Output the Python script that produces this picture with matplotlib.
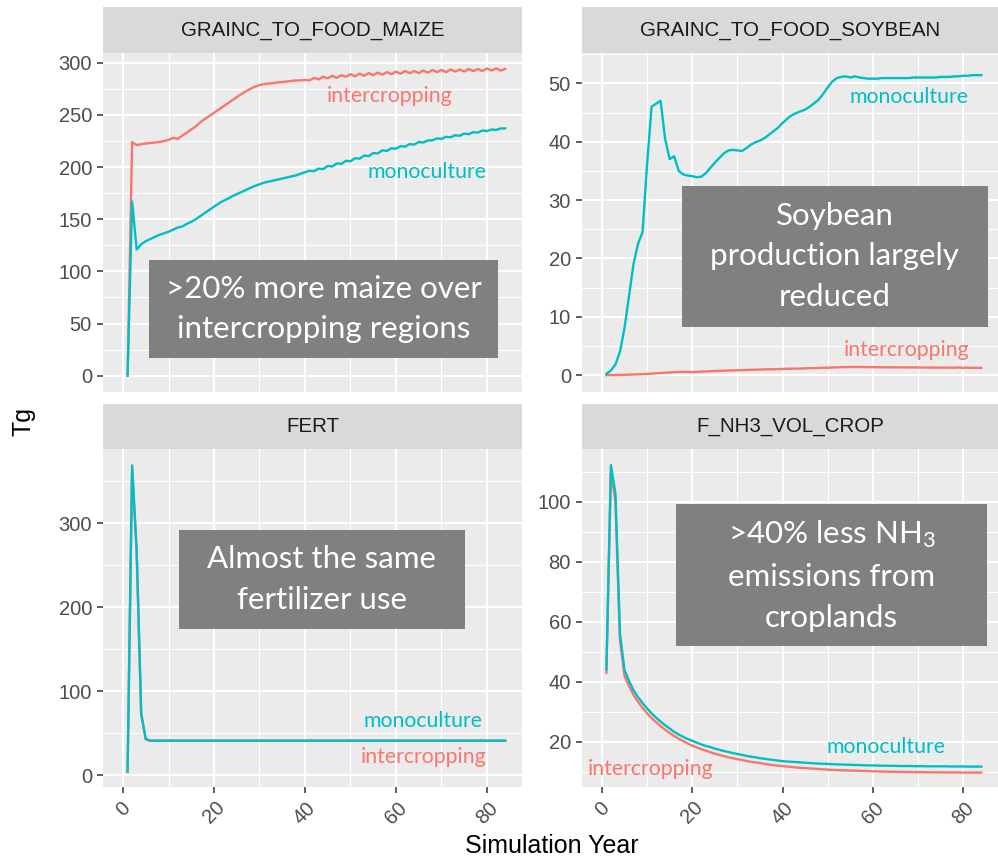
import matplotlib
matplotlib.use('Agg')
import matplotlib.pyplot as plt
from matplotlib.patches import Rectangle

plt.rcParams['font.family'] = ['Liberation Sans', 'DejaVu Sans']

years = list(range(1, 85))

maize_inter = [0, 224, 221, 222, 222.5, 223, 223.5, 224, 225, 226,
               228, 227, 230, 233, 236, 239, 243, 246, 249, 252,
               255, 258, 261, 264, 267, 270, 272.5, 275, 277, 278.5,
               279.5, 280, 280.5, 281, 281.5, 282, 282.5, 283, 283, 283.5,
               283, 285.5, 284, 286.5, 285, 287.5, 285.5, 288, 286.5, 289,
               287, 289.5, 287.5, 290, 288, 290.5, 288.5, 291, 289, 291.5,
               289.5, 292, 290, 292, 290, 292.5, 290.5, 293, 291, 293,
               291, 293.5, 291.5, 293.5, 291.5, 294, 292, 294, 292, 294.5,
               292.5, 294.5, 292.5, 294]
maize_mono = [0, 167, 121, 126, 129, 131, 133, 135, 136.5, 138,
              140, 142, 143, 145.5, 147.5, 150, 153, 156, 159, 162,
              165, 167.5, 169.5, 172, 174, 176, 178, 180, 182, 183.5,
              185, 186, 187, 188, 189, 190, 191, 192, 193.5, 195,
              196.5, 196, 198.5, 198, 201, 200.5, 203.5, 203, 206, 205.5,
              208.5, 208, 211, 210.5, 213.5, 213, 216, 215.5, 218, 217.5,
              220, 219.5, 222, 221.5, 224, 223.5, 225.5, 225.5, 227.5, 227,
              229, 228.5, 230.5, 230, 232, 231.5, 233.5, 233, 235, 234.5,
              236, 235.5, 237, 237]

soy_mono = [0.2, 0.8, 1.8, 4.0, 8.0, 13.5, 19.0, 22.5, 24.5, 36,
            46, 46.5, 47, 40.5, 37, 37.5, 35, 34.4, 34.2, 34.1,
            33.9, 34, 34.6, 35.5, 36.4, 37.2, 38.0, 38.5, 38.6, 38.5,
            38.4, 38.9, 39.5, 39.9, 40.2, 40.6, 41.2, 41.8, 42.4, 43.2,
            43.9, 44.5, 44.9, 45.2, 45.5, 46.0, 46.6, 47.2, 48.2, 49.3,
            50.3, 50.9, 51.1, 51.2, 51.0, 51.2, 51.0, 50.9, 50.8, 50.8,
            50.8, 50.9, 50.9, 50.9, 50.9, 50.9, 50.9, 50.9, 51.0, 51.0,
            51.0, 51.0, 51.0, 51.0, 51.1, 51.1, 51.1, 51.2, 51.2, 51.3,
            51.3, 51.4, 51.4, 51.4]
soy_inter = [0, 0, 0.02, 0.03, 0.05, 0.07, 0.1, 0.12, 0.15, 0.2,
             0.25, 0.3, 0.35, 0.4, 0.45, 0.5, 0.55, 0.55, 0.55, 0.5,
             0.55, 0.6, 0.62, 0.65, 0.7, 0.72, 0.75, 0.78, 0.8, 0.82,
             0.84, 0.86, 0.9, 0.92, 0.95, 0.98, 1.0, 1.0, 1.02, 1.05,
             1.08, 1.1, 1.1, 1.12, 1.15, 1.18, 1.2, 1.22, 1.25, 1.27,
             1.3, 1.32, 1.35, 1.36, 1.38, 1.38, 1.38, 1.37, 1.36, 1.35,
             1.35, 1.34, 1.34, 1.33, 1.33, 1.32, 1.32, 1.31, 1.31, 1.3,
             1.3, 1.29, 1.29, 1.28, 1.28, 1.27, 1.27, 1.26, 1.3, 1.24,
             1.28, 1.23, 1.26, 1.22]

fert_mono = [4, 369, 268, 73, 43, 41] + [41] * 78
fert_inter = [4, 366, 265, 72, 42.5, 40.8] + [40.8] * 78

nh3_mono = [44.1, 112.2, 102.8, 56.1, 43.9, 40.3, 37.2, 34.9, 32.9, 31.1,
            29.5, 28.0, 26.7, 25.5, 24.4, 23.3, 22.4, 21.6, 20.9, 20.3,
            19.7, 19.1, 18.6, 18.2, 17.7, 17.3, 16.9, 16.6, 16.2, 15.9,
            15.6, 15.3, 15.0, 14.8, 14.5, 14.3, 14.1, 13.9, 13.7, 13.5,
            13.4, 13.3, 13.2, 13.1, 13.0, 12.9, 12.8, 12.7, 12.65, 12.6,
            12.5, 12.45, 12.4, 12.35, 12.3, 12.25, 12.2, 12.15, 12.1, 12.1,
            12.05, 12.0, 12.0, 11.95, 11.95, 11.9, 11.9, 11.9, 11.85, 11.85,
            11.85, 11.8, 11.8, 11.8, 11.8, 11.8, 11.75, 11.75, 11.75, 11.75,
            11.7, 11.7, 11.7, 11.7]
nh3_inter = [43.0, 110, 100, 54, 42.0, 38.6, 35.6, 33.3, 31.3, 29.5,
             27.9, 26.5, 25.2, 24.0, 22.9, 21.9, 21.0, 20.2, 19.4, 18.7,
             18.1, 17.5, 17.0, 16.5, 16.0, 15.6, 15.2, 14.8, 14.5, 14.2,
             13.9, 13.6, 13.3, 13.1, 12.9, 12.6, 12.4, 12.2, 12.0, 11.9,
             11.7, 11.6, 11.4, 11.3, 11.2, 11.1, 11.0, 10.9, 10.8, 10.7,
             10.6, 10.55, 10.5, 10.45, 10.4, 10.35, 10.3, 10.25, 10.2, 10.15,
             10.1, 10.05, 10.0, 10.0, 9.95, 9.95, 9.9, 9.9, 9.85, 9.85,
             9.85, 9.8, 9.8, 9.8, 9.8, 9.75, 9.75, 9.75, 9.75, 9.7,
             9.7, 9.7, 9.7, 9.7]

panel_titles = ['GRAINC_TO_FOOD_MAIZE', 'GRAINC_TO_FOOD_SOYBEAN', 'FERT', 'F_NH3_VOL_CROP']
notes = ['>20% more maize over\nintercropping regions',
         'Soybean\nproduction largely\nreduced',
         'Almost the same\nfertilizer use',
         '>40% less NH$\\mathregular{_3}$\nemissions from\ncroplands']
x_ticks = [0, 20, 40, 60, 80]

RED = '#F8766D'
CYAN = '#00BFC4'
W, H = 998, 861


def rect(l, t, r, b):
    return [l / W, 1 - b / H, (r - l) / W, (b - t) / H]


# panel boxes in pixels: (plot area, strip area)
panels = [
    ((103, 53, 522, 392), (103, 7, 522, 53)),
    ((582, 53, 998, 392), (582, 7, 998, 53)),
    ((103, 449, 522, 787), (103, 404, 522, 449)),
    ((582, 449, 998, 787), (582, 404, 998, 449)),
]
series = [(maize_inter, maize_mono), (soy_inter, soy_mono),
          (fert_inter, fert_mono), (nh3_inter, nh3_mono)]
ylims = [(-15.6, 309.3), (-2.9, 55.2), (-14.3, 388.6), (4.9, 117.6)]
yticks = [[0, 50, 100, 150, 200, 250, 300], [0, 10, 20, 30, 40, 50],
          [0, 100, 200, 300], [20, 40, 60, 80, 100]]
yminor = [[25, 75, 125, 175, 225, 275], [5, 15, 25, 35, 45, 55],
          [50, 150, 250, 350], [10, 30, 50, 70, 90, 110]]
# label positions (axes fraction): intercropping, monoculture
lab_pos = [((0.685, 0.873), (0.773, 0.650)),
           ((0.781, 0.124), (0.786, 0.870)),
           ((0.764, 0.089), (0.764, 0.196)),
           ((0.165, 0.053), (0.731, 0.119))]
# note boxes (axes fraction): x0, y0, x1, y1
note_box = [(0.110, 0.100, 0.943, 0.389),
            (0.240, 0.192, 0.976, 0.608),
            (0.181, 0.467, 0.864, 0.760),
            (0.226, 0.417, 0.974, 0.837)]

fig = plt.figure(figsize=(W / 100, H / 100), dpi=100)

for i in range(4):
    (pa, sa) = panels[i]
    ax = fig.add_axes(rect(*pa))
    ax.set_facecolor('#EBEBEB')
    for s in ax.spines.values():
        s.set_visible(False)
    ax.set_xlim(-4.4, 87.7)
    ax.set_ylim(*ylims[i])
    ax.set_xticks(x_ticks)
    ax.set_xticks([10, 30, 50, 70], minor=True)
    ax.set_yticks(yticks[i])
    ax.set_yticks(yminor[i], minor=True)
    ax.grid(which='major', color='white', linewidth=1.5)
    ax.grid(which='minor', color='white', linewidth=0.75)
    ax.set_axisbelow(True)
    ax.tick_params(which='minor', length=0)
    ax.tick_params(which='major', color='#333333', length=4, width=1.1,
                   labelcolor='#4D4D4D', labelsize=14.5, pad=4)
    if i < 2:
        ax.tick_params(axis='x', which='major', length=0, labelbottom=False)
    else:
        ax.set_xticklabels([str(v) for v in x_ticks], rotation=45, ha='center', va='top')

    inter, mono = series[i]
    ax.plot(years, inter, color=RED, linewidth=1.7)
    ax.plot(years, mono, color=CYAN, linewidth=1.7)

    (ip, mp) = lab_pos[i]
    ax.text(ip[0], ip[1], 'intercropping', color=RED, fontsize=15.3, family=['Lato', 'DejaVu Sans'],
            ha='center', va='center', transform=ax.transAxes)
    ax.text(mp[0], mp[1], 'monoculture', color=CYAN, fontsize=15.3, family=['Lato', 'DejaVu Sans'],
            ha='center', va='center', transform=ax.transAxes)

    x0, y0, x1, y1 = note_box[i]
    ax.add_patch(Rectangle((x0, y0), x1 - x0, y1 - y0, transform=ax.transAxes,
                           facecolor='#808080', edgecolor='none', zorder=3))
    ax.text((x0 + x1) / 2, (y0 + y1) / 2, notes[i], color='white', fontsize=22.5,
            family=['Lato', 'DejaVu Sans'], linespacing=1.55,
            ha='center', va='center', transform=ax.transAxes, zorder=4)

    st = fig.add_axes(rect(*sa))
    st.set_facecolor('#D9D9D9')
    st.set_xticks([])
    st.set_yticks([])
    for s in st.spines.values():
        s.set_visible(False)
    st.text(0.5, 0.5, panel_titles[i], color='#1A1A1A', fontsize=14.8,
            ha='center', va='center', transform=st.transAxes)

fig.text(23.5 / W, 1 - 421 / H, 'Tg', rotation=90, fontsize=18, ha='center', va='center')
fig.text(552 / W, 1 - 846 / H, 'Simulation Year', fontsize=18, ha='center', va='center')

fig.savefig('out.png', dpi=100)
